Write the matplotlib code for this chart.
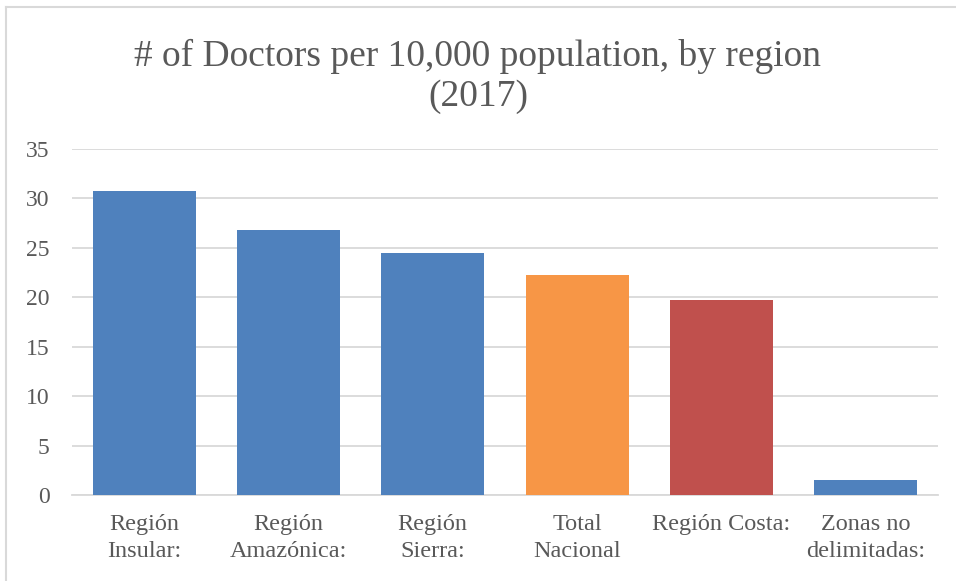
import matplotlib.pyplot as plt
from matplotlib.lines import Line2D

categories = ["Región\nInsular:", "Región\nAmazónica:", "Región\nSierra:",
              "Total\nNacional", "Región Costa:", "Zonas no\ndelimitadas:"]
doctors = [30.75, 26.8, 24.5, 22.25, 19.7, 1.5]
bar_colors = ["#4f81bd", "#4f81bd", "#4f81bd", "#f79646", "#c0504d", "#4f81bd"]
yticks = [0, 5, 10, 15, 20, 25, 30, 35]

text_color = "#595959"
grid_color = "#d9d9d9"

plt.rcParams['font.family'] = ['Liberation Serif', 'DejaVu Serif']

fig = plt.figure(figsize=(9.56, 5.81), dpi=100)
ax = fig.add_axes([0.0753, 0.148, 0.9057, 0.5955])

x = range(len(categories))
ax.bar(x, doctors, width=0.714, color=bar_colors, zorder=3)

ax.set_xlim(-0.5, len(categories) - 0.5)
ax.set_ylim(0, 35)
ax.set_yticks(yticks)
ax.set_xticks(list(x))
ax.set_xticklabels(categories, fontsize=17.5, color=text_color, linespacing=1.33)
ax.tick_params(axis='y', labelsize=17, labelcolor=text_color, length=0, pad=16)
ax.tick_params(axis='x', length=0, pad=14)
ax.grid(axis='y', color=grid_color, linewidth=1.3, zorder=0)
for s in ["top", "right", "left"]:
    ax.spines[s].set_visible(False)
ax.spines["bottom"].set_color(grid_color)
ax.spines["bottom"].set_linewidth(1.3)

fig.text(0.5, 0.868, "# of Doctors per 10,000 population, by region\n(2017)",
         ha='center', va='center', fontsize=27, color=text_color, linespacing=1.2)

# chart frame (only top and left edges show in the crop)
fig.add_artist(Line2D([6 / 956, 1.0], [1 - 7 / 581, 1 - 7 / 581],
                      transform=fig.transFigure, color=grid_color, linewidth=1.5))
fig.add_artist(Line2D([6 / 956, 6 / 956], [0, 1 - 7 / 581],
                      transform=fig.transFigure, color=grid_color, linewidth=1.5))

plt.savefig("out.png", dpi=100)
